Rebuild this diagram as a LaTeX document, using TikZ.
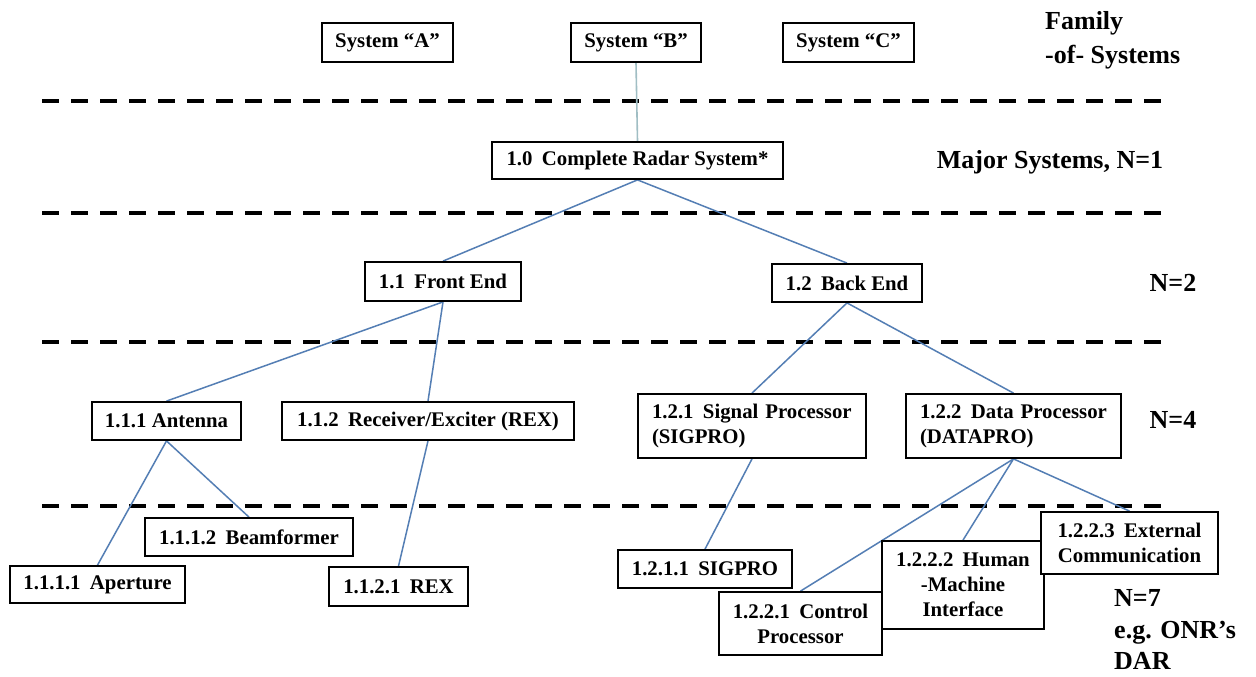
\documentclass[tikz,border=0pt]{standalone}
\usepackage{fontspec}
\setmainfont{Liberation Serif}
\usetikzlibrary{backgrounds}
\definecolor{connblue}{RGB}{84,126,180}
\definecolor{sysline}{RGB}{160,190,196}
\newcommand{\gp}{\hspace{0.45em}}
\tikzset{
  box/.style={draw=black, line width=1.8pt, fill=white, inner sep=0pt,
    font={\bfseries\fontsize{20.8}{25}\selectfont}, align=center},
  leftbox/.style={box, align=left, inner xsep=14pt},
  lbl/.style={font={\bfseries\fontsize{26}{34}\selectfont}, inner sep=0pt},
  lastlbl/.style={font={\bfseries\fontsize{26}{31.5}\selectfont}, inner sep=0pt},
  conn/.style={draw=connblue, line width=1.5pt},
  sysconn/.style={draw=sysline, line width=1.6pt},
  level/.style={line width=4.5pt, dash pattern=on 17pt off 12pt},
}
\begin{document}
\begin{tikzpicture}[x=1pt, y=-1pt]
\useasboundingbox (0,0) rectangle (1256,677);

% boxes
\node[box, minimum width=131pt, minimum height=39pt] (sa) at (387.5,42.5) {System “A”};
\node[box, minimum width=130pt, minimum height=39pt] (sb) at (636,42.5) {System “B”};
\node[box, minimum width=131pt, minimum height=39pt] (sc) at (848.5,42.5) {System “C”};
\node[box, minimum width=291pt, minimum height=37pt] (n10) at (637.5,160.5) {1.0\gp Complete Radar System*};
\node[box, minimum width=156pt, minimum height=39pt] (n11) at (443,281.5) {1.1\gp Front End};
\node[box, minimum width=150pt, minimum height=38pt] (n12) at (847,283) {1.2\gp Back End};
\node[box, minimum width=149pt, minimum height=38pt] (n111) at (166.5,421) {1.1.1 Antenna};
\node[box, minimum width=292pt, minimum height=38pt] (n112) at (428,421) {1.1.2\gp Receiver/Exciter (REX)};
\node[leftbox, text width=200pt, minimum height=64pt] (n121) at (752,426) {1.2.1\gp Signal Processor\\(SIGPRO)};
\node[leftbox, text width=187pt, minimum height=64pt] (n122) at (1013.5,426) {1.2.2\gp Data Processor\\(DATAPRO)};
\node[box, minimum width=208pt, minimum height=38pt] (n1112) at (249,537) {1.1.1.2\gp Beamformer};
\node[box, minimum width=175pt, minimum height=37pt] (n1111) at (97.5,584.5) {1.1.1.1\gp Aperture};
\node[box, minimum width=139pt, minimum height=39pt] (n1121) at (398.5,586.5) {1.1.2.1\gp REX};
\node[box, minimum width=174pt, minimum height=38pt] (n1211) at (705,569) {1.2.1.1\gp SIGPRO};
\node[box, minimum width=163pt, minimum height=63pt] (n1221) at (800.5,623.5) {1.2.2.1\gp Control\\Processor};
\node[box, minimum width=162pt, minimum height=88pt] (n1222) at (963,585) {1.2.2.2\gp Human\\-Machine\\Interface};
\node[box, minimum width=177pt, minimum height=62pt] (n1223) at (1129.5,543) {1.2.2.3\gp External\\Communication};

% level labels
\node[lbl, anchor=west, align=left] (fam) at (1045,40) {Family\\-of- Systems};
\node[lbl] (maj) at (1050,162) {Major Systems, N=1};
\node[lbl] (l2) at (1173,283) {N=2};
\node[lbl] (l4) at (1173,420) {N=4};
\node[lastlbl, anchor=west, align=left] (l7) at (1114,630) {N=7\\e.g. ONR’s\\DAR};

\begin{scope}[on background layer]
\fill[white] (0,0) rectangle (1256,677);
% level separators
\draw[level] (42,101) -- (1167,101);
\draw[level] (42,213) -- (1167,213);
\draw[level] (42,342) -- (1167,342);
\draw[level] (42,506) -- (1167,506);
% connectors
\draw[sysconn] (sb.south) -- (n10.north);
\draw[conn] (n10.south) -- (n11.north);
\draw[conn] (n10.south) -- (n12.north);
\draw[conn] (n11.south) -- (n111.north);
\draw[conn] (n11.south) -- (n112.north);
\draw[conn] (n12.south) -- (n121.north);
\draw[conn] (n12.south) -- (n122.north);
\draw[conn] (n111.south) -- (n1111.north);
\draw[conn] (n111.south) -- (n1112.north);
\draw[conn] (n112.south) -- (n1121.north);
\draw[conn] (n121.south) -- (n1211.north);
\draw[conn] (n122.south) -- (n1221.north);
\draw[conn] (n122.south) -- (n1222.north);
\draw[conn] (n122.south) -- (n1223.north);
\end{scope}
\end{tikzpicture}
\end{document}
